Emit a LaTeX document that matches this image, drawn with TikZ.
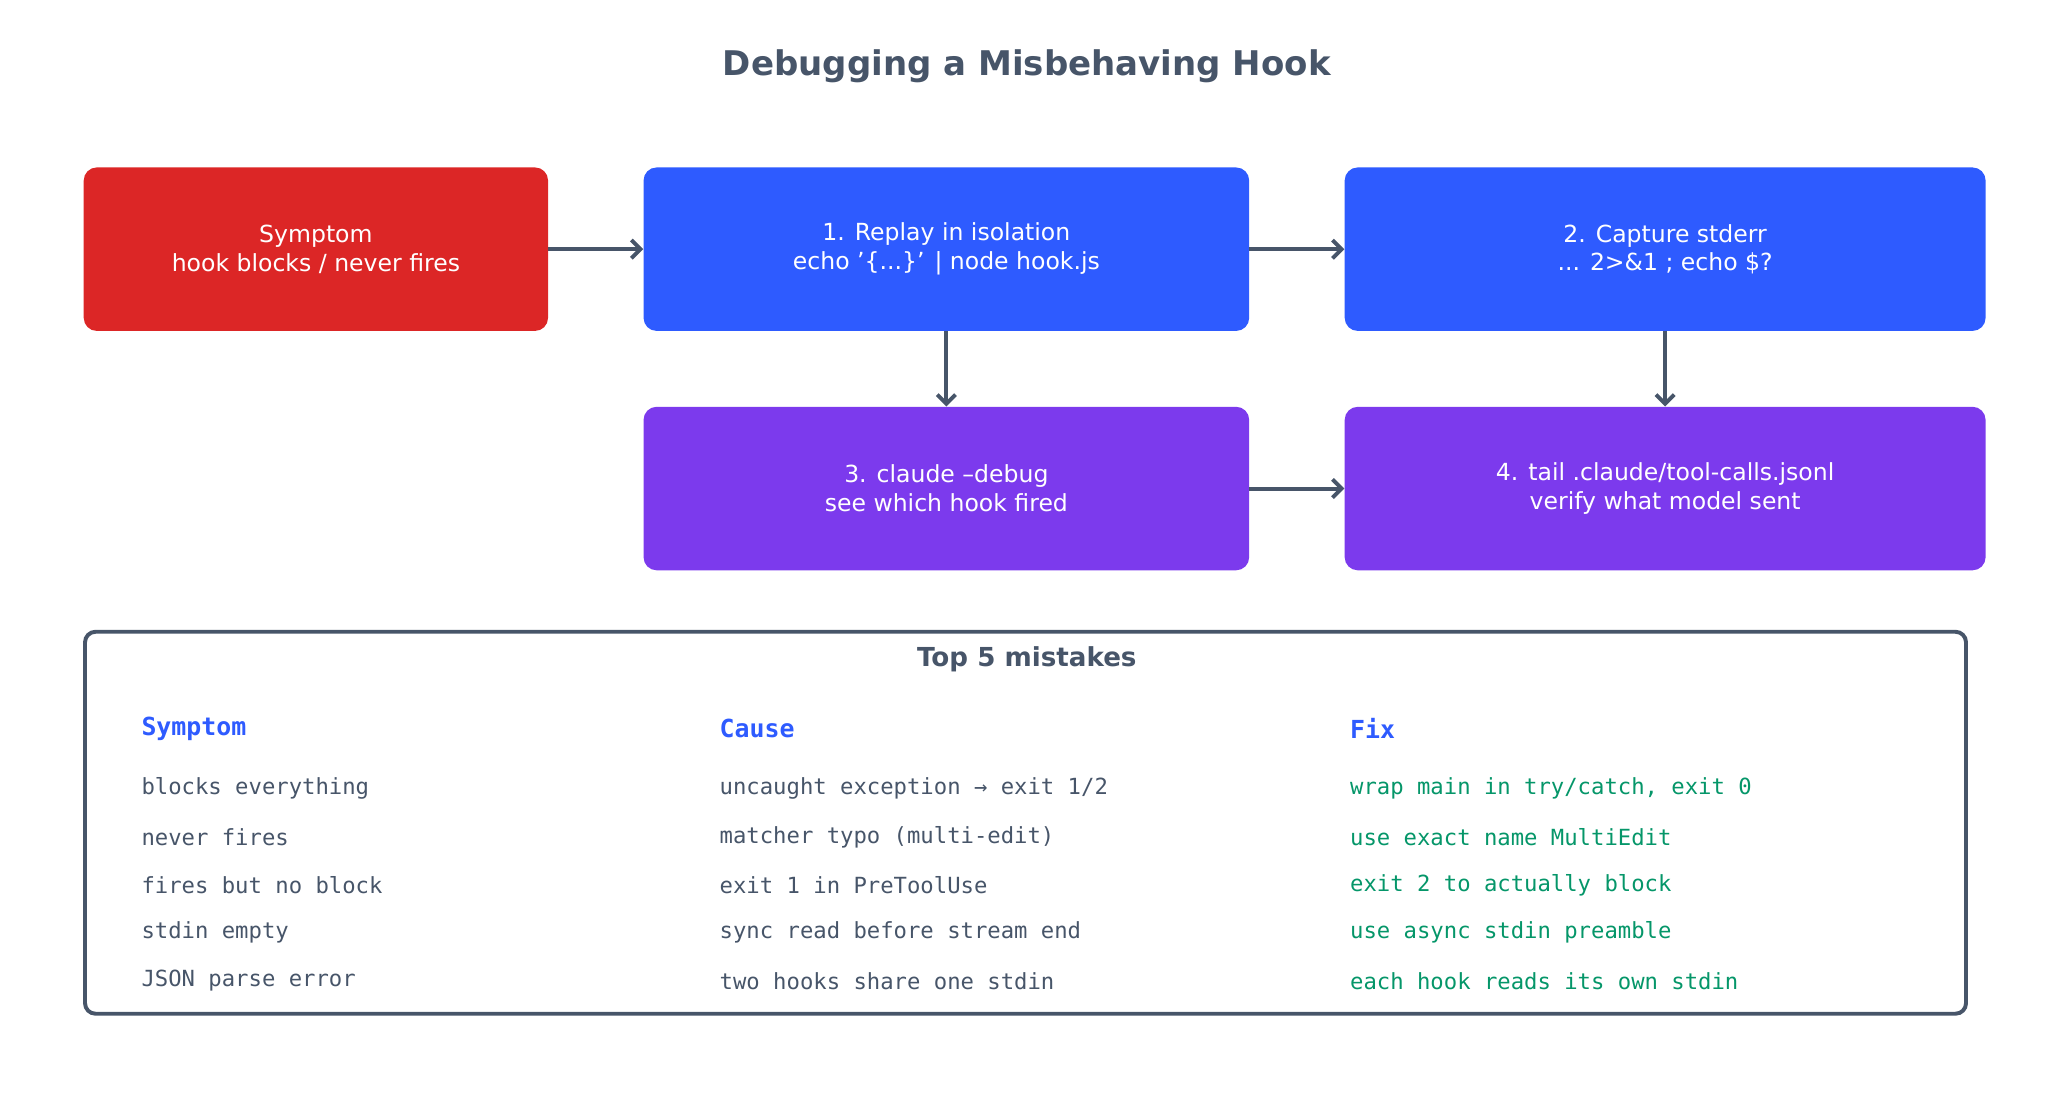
\documentclass[tikz,border=0pt]{standalone}
\usepackage{fontspec}
\setmainfont{DejaVu Sans}
\setmonofont{DejaVu Sans Mono}
\usetikzlibrary{arrows.meta}
\definecolor{ink}{HTML}{475569}
\definecolor{redbox}{HTML}{DC2626}
\definecolor{bluebox}{HTML}{2E5BFF}
\definecolor{purplebox}{HTML}{7C3AED}
\definecolor{fixgreen}{HTML}{059669}
\tikzset{
  stepbox/.style={rounded corners=10pt, text=white, align=center, font=\fontsize{18}{22}\selectfont, inner sep=0pt},
  flow/.style={ink, line width=3pt, -{Straight Barb[length=7pt,width=14pt]}},
  cell/.style={anchor=west, font=\ttfamily\fontsize{17}{20}\selectfont, inner sep=0pt},
  head/.style={cell, bluebox, font=\ttfamily\bfseries\fontsize{19}{22}\selectfont}
}

\begin{document}
\begin{tikzpicture}[x=1pt, y=-1pt]
\useasboundingbox (0,0) rectangle (1568,839.4);
% Title
    \node[ink, font=\bfseries\fontsize{26}{30}\selectfont] (title) at (785,51) {Debugging a Misbehaving Hook};
% Steps
    \node[stepbox, fill=redbox, minimum width=355pt, minimum height=125pt] (symptom) at (241.5,190.5) {Symptom\\hook blocks / never fires};
    \node[stepbox, fill=bluebox, minimum width=463pt, minimum height=125pt] (replay) at (723.5,190.5) {1. Replay in isolation\\echo '\{...\}' | node hook.js};
    \node[stepbox, fill=bluebox, minimum width=490pt, minimum height=125pt] (capture) at (1273,190.5) {2. Capture stderr\\... 2>\&1 ; echo \$?};
    \node[stepbox, fill=purplebox, minimum width=463pt, minimum height=125pt] (debug) at (723.5,373.5) {3. claude --debug\\see which hook fired};
    \node[stepbox, fill=purplebox, minimum width=490pt, minimum height=125pt] (tail) at (1273,373.5) {4. tail .claude/tool-calls.jsonl\\verify what model sent};
% Flow
    \draw[flow] (symptom) -- (replay);
    \draw[flow] (replay) -- (capture);
    \draw[flow] (replay) -- (debug);
    \draw[flow] (capture) -- (tail);
    \draw[flow] (debug) -- (tail);
% Mistakes table
    \draw[ink, line width=3pt, rounded corners=8pt] (65,483) rectangle (1503,775);
    \node[ink, font=\bfseries\fontsize{20}{24}\selectfont] (top) at (785,504) {Top 5 mistakes};
    \node[head] (hsym) at (108,557) {Symptom};
    \node[head] (hcause) at (550,557) {Cause};
    \node[head] (hfix) at (1032,557) {Fix};
    \node[cell, ink] at (108,603) {blocks everything};
    \node[cell, ink] at (550,603) {uncaught exception → exit 1/2};
    \node[cell, fixgreen] at (1032,603) {wrap main in try/catch, exit 0};
    \node[cell, ink] at (108,640) {never fires};
    \node[cell, ink] at (550,640) {matcher typo (multi-edit)};
    \node[cell, fixgreen] at (1032,640) {use exact name MultiEdit};
    \node[cell, ink] at (108,677) {fires but no block};
    \node[cell, ink] at (550,677) {exit 1 in PreToolUse};
    \node[cell, fixgreen] at (1032,677) {exit 2 to actually block};
    \node[cell, ink] at (108,713) {stdin empty};
    \node[cell, ink] at (550,713) {sync read before stream end};
    \node[cell, fixgreen] at (1032,713) {use async stdin preamble};
    \node[cell, ink] at (108,750) {JSON parse error};
    \node[cell, ink] at (550,750) {two hooks share one stdin};
    \node[cell, fixgreen] at (1032,750) {each hook reads its own stdin};
\end{tikzpicture}
\end{document}
